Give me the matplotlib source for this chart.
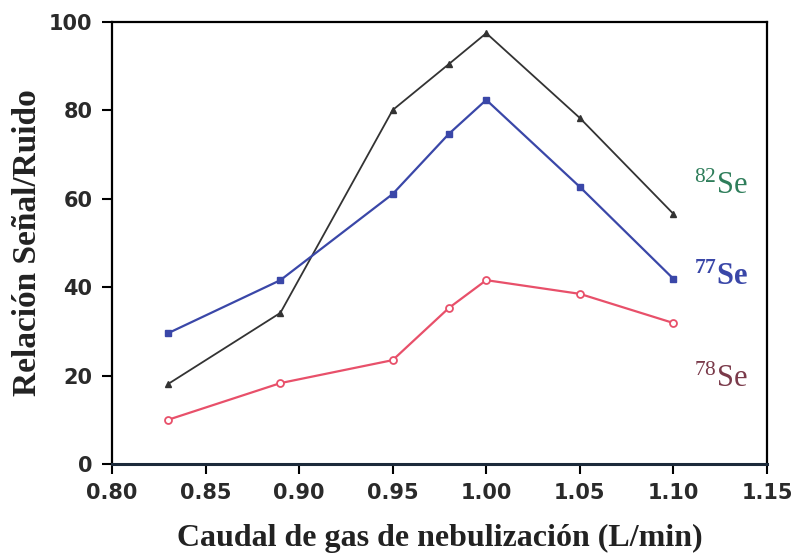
import matplotlib.pyplot as plt

# Data
flow = [0.83, 0.89, 0.95, 0.98, 1.00, 1.05, 1.10]
se82 = [18.1, 34.2, 80.1, 90.5, 97.5, 78.3, 56.6]
se77 = [29.6, 41.6, 61.1, 74.7, 82.4, 62.7, 41.9]
se78 = [10.0, 18.3, 23.5, 35.3, 41.6, 38.5, 31.9]

fig = plt.figure(figsize=(7.94, 5.53), dpi=100)
ax = fig.add_axes([0.141, 0.161, 0.825, 0.799])

ax.plot(flow, se82, color='#333333', lw=1.3, marker='^', ms=5)
ax.plot(flow, se77, color='#3a47a8', lw=1.6, marker='s', ms=5)
ax.plot(flow, se78, color='#e8506a', lw=1.6, marker='o', ms=5,
        markerfacecolor='white', markeredgewidth=1.3)

ax.set_xlim(0.80, 1.15)
ax.set_ylim(0, 100)
ax.set_xticks([0.80, 0.85, 0.90, 0.95, 1.00, 1.05, 1.10, 1.15])
ax.set_xticklabels(['0.80', '0.85', '0.90', '0.95', '1.00', '1.05', '1.10', '1.15'])
ax.set_yticks([0, 20, 40, 60, 80, 100])
ax.tick_params(direction='out', length=7, width=1.5, labelsize=15, pad=7)
for lab in ax.get_xticklabels() + ax.get_yticklabels():
    lab.set_fontfamily('DejaVu Sans')
    lab.set_fontweight('bold')
    lab.set_color('#2a2a2a')
for s in ax.spines.values():
    s.set_linewidth(1.6)
ax.spines['bottom'].set_linewidth(2.2)
ax.spines['bottom'].set_color('#1c2a3a')

ax.set_xlabel('Caudal de gas de nebulización (L/min)', fontsize=23,
              fontweight='bold', family='Liberation Serif', color='#222222')
ax.set_ylabel('Relación Señal/Ruido', fontsize=24, fontweight='bold',
              family='Liberation Serif', color='#222222')
ax.xaxis.set_label_coords(0.5, -0.135)
ax.yaxis.set_label_coords(-0.105, 0.5)

lbl = dict(fontsize=22, family='Liberation Serif')
ax.text(1.111, 61, r'$\mathregular{^{82}}$Se', color='#2e7d5a', **lbl)
ax.text(1.111, 40.5, r'$\mathregular{^{77}}$Se', color='#3a47a8', fontweight='bold', **lbl)
ax.text(1.111, 17.5, r'$\mathregular{^{78}}$Se', color='#7a3a4a', **lbl)

plt.savefig('out.png', dpi=100)
